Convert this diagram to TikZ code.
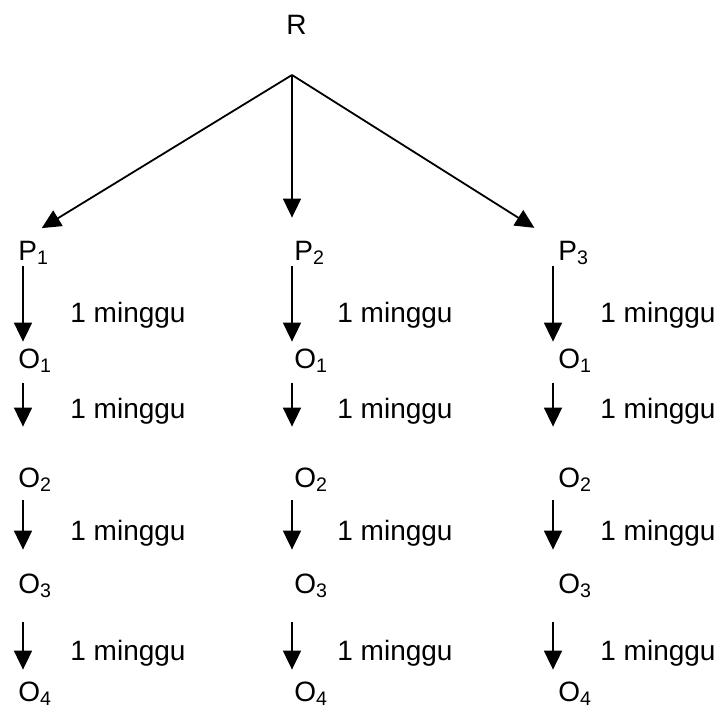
\documentclass[tikz,border=0pt]{standalone}
\usepackage{fontspec}
\setmainfont{Liberation Sans}
\usetikzlibrary{arrows.meta}

\begin{document}
\begin{tikzpicture}[x=0.5pt,y=0.5pt]
\tikzstyle{every node}+=[inner sep=0pt,font=\fontsize{14}{17}\selectfont]
\tikzstyle{lbl}=[anchor=base west,text height=10pt,text depth=3pt]
\tikzstyle{arr}=[black,line width=0.9pt,-{Triangle[width=9pt,length=9.5pt]}]
\useasboundingbox (0,0) rectangle (721,-711);
\node [lbl] (R) at (286,-35) {R};
\coordinate (apex) at (292,-75);
\coordinate (col1) at (23,0);
\coordinate (col2) at (292,0);
\coordinate (col3) at (553,0);
\foreach \c/\x/\m in {1/18/70, 2/294/337, 3/558/600} {
  \node [lbl] (P\c) at (\x,-260) {P\textsubscript{\c}};
  \node [lbl] (O1\c) at (\x,-368) {O\textsubscript{1}};
  \node [lbl] (O2\c) at (\x,-487) {O\textsubscript{2}};
  \node [lbl] (O3\c) at (\x,-593) {O\textsubscript{3}};
  \node [lbl] (O4\c) at (\x,-701) {O\textsubscript{4}};
  \node [lbl] (w1\c) at (\m,-322) {1 minggu};
  \node [lbl] (w2\c) at (\m,-418) {1 minggu};
  \node [lbl] (w3\c) at (\m,-540) {1 minggu};
  \node [lbl] (w4\c) at (\m,-660) {1 minggu};
  \draw [arr,shorten >=11pt] (apex) -- (P\c.north -| col\c);
  \draw [arr,shorten >=3pt] (P\c.south -| col\c) -- (O1\c.north -| col\c);
  \draw [arr,shorten <=4.5pt,shorten >=20pt] (O1\c.south -| col\c) -- (O2\c.north -| col\c);
  \draw [arr,shorten <=3.5pt,shorten >=11.5pt] (O2\c.south -| col\c) -- (O3\c.north -| col\c);
  \draw [arr,shorten <=11.5pt,shorten >=5.5pt] (O3\c.south -| col\c) -- (O4\c.north -| col\c);
}
\end{tikzpicture}
\end{document}
